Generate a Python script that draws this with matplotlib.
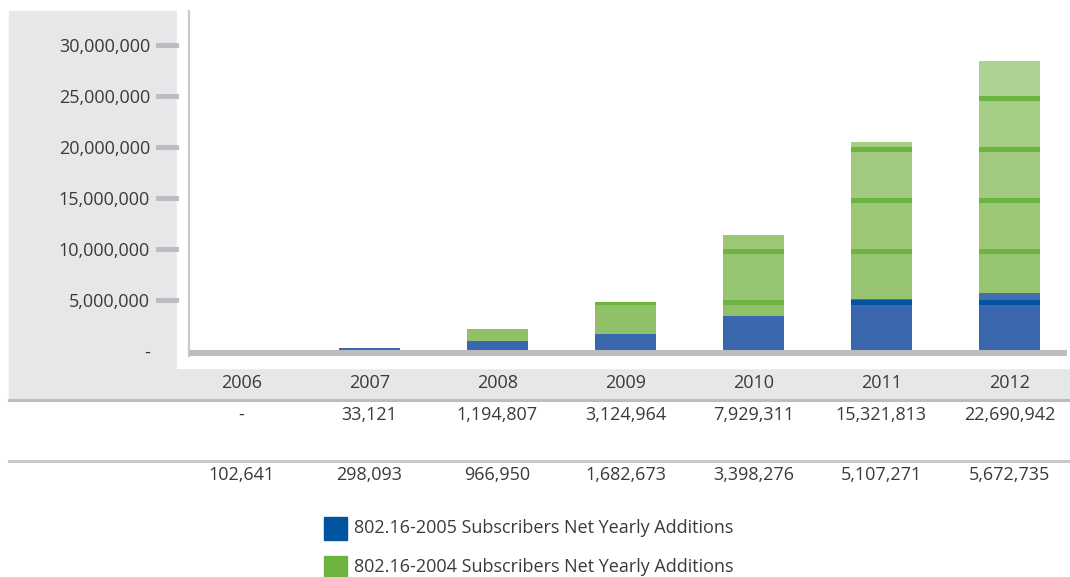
import matplotlib.pyplot as plt
from matplotlib.patches import Rectangle
from matplotlib.lines import Line2D
from matplotlib.transforms import blended_transform_factory

plt.rcParams['font.family'] = ['Open Sans', 'DejaVu Sans']

# data
years = ['2006', '2007', '2008', '2009', '2010', '2011', '2012']
subs_2004 = [0, 33121, 1194807, 3124964, 7929311, 15321813, 22690942]
subs_2005 = [102641, 298093, 966950, 1682673, 3398276, 5107271, 5672735]
row_2004 = ['-', '33,121', '1,194,807', '3,124,964', '7,929,311', '15,321,813', '22,690,942']
row_2005 = ['102,641', '298,093', '966,950', '1,682,673', '3,398,276', '5,107,271', '5,672,735']
yticks = [0, 5e6, 10e6, 15e6, 20e6, 25e6, 30e6]
ytick_labels = ['-', '5,000,000', '10,000,000', '15,000,000', '20,000,000', '25,000,000', '30,000,000']
legend_labels = ['802.16-2005 Subscribers Net Yearly Additions',
                 '802.16-2004 Subscribers Net Yearly Additions']

blue = '#0054a0'
green = '#6db33f'
blue_body = '#3a67ad'
green_body = '#90c168'
panel = '#e6e7e8'
grey_line = '#bcbdc0'
txt = '#3a3a3a'

W, H = 1070, 577
fig = plt.figure(figsize=(W / 100, H / 100), dpi=100)

def fx(px):
    return px / W

def fy(py):
    return 1 - py / H

# grey panels behind axis labels and category row
fig.patches.append(Rectangle((fx(9), fy(368)), fx(177 - 9), fy(11) - fy(368),
                             transform=fig.transFigure, color=panel, zorder=-10))
fig.patches.append(Rectangle((fx(9), fy(398)), fx(W - 9), fy(368) - fy(398),
                             transform=fig.transFigure, color=panel, zorder=-10))
fig.lines.append(Line2D([fx(9), 1], [fy(399.5), fy(399.5)], transform=fig.transFigure,
                        color=grey_line, lw=2.2, zorder=-5))
fig.lines.append(Line2D([fx(9), 1], [fy(461), fy(461)], transform=fig.transFigure,
                        color='#c8c9cb', lw=2.2, zorder=-5))

ax = fig.add_axes([fx(189), fy(356), fx(1067 - 189), fy(11) - fy(356)])
ax.patch.set_visible(False)
fig.patches.append(Rectangle((fx(177), fy(368)), fx(W - 177), fy(11) - fy(368),
                             transform=fig.transFigure, color='white', zorder=-9))

x = list(range(len(years)))
width = 0.477
bars_b = ax.bar(x, subs_2005, width, color=blue_body, zorder=1)
bars_g = ax.bar(x, subs_2004, width, bottom=subs_2005, color=green_body, zorder=1)

# bar body gets lighter higher up
for k in range(1, 7):
    ax.axhspan(k * 5e6, (k + 1) * 5e6, color='white', alpha=0.053 * k, lw=0, zorder=1.5)

# gridline stripes show in full colour inside the bars
band = 0.5e6
for bars, c in [(bars_b, blue), (bars_g, green)]:
    for p in bars:
        for v in yticks[1:]:
            s = ax.axhspan(v - band, v, color=c, lw=0, zorder=2)
            s.set_clip_path(p)

ax.axhspan(-0.49e6, 0.1e6, color=grey_line, lw=0, zorder=3)

ax.set_xlim(-0.41, 6.45)
ax.set_ylim(-0.49e6, 33.28e6)
ax.set_xticks([])
ax.set_yticks(yticks)
ax.set_yticklabels(ytick_labels, fontsize=13, color=txt)
ax.tick_params(axis='y', length=0, pad=28)
for s in ['top', 'right', 'bottom']:
    ax.spines[s].set_visible(False)
ax.spines['left'].set_color('#c8c9cb')
ax.spines['left'].set_linewidth(1.6)

# grey tick marks in the left panel
tr_marks = blended_transform_factory(fig.transFigure, ax.transData)
for v in yticks[1:]:
    ax.add_line(Line2D([fx(158), fx(176)], [v, v], transform=tr_marks,
                       color=grey_line, lw=3.6, clip_on=False))

# table under the chart
tr = blended_transform_factory(ax.transData, fig.transFigure)
for i in x:
    ax.text(i, fy(383), years[i], transform=tr, ha='center', va='center',
            fontsize=13, color=txt)
    ax.text(i, fy(415), row_2004[i], transform=tr, ha='center', va='center',
            fontsize=13, color=txt)
    ax.text(i, fy(475), row_2005[i], transform=tr, ha='center', va='center',
            fontsize=13, color=txt)

# legend
for j, (lab, c) in enumerate(zip(legend_labels, [blue, green])):
    yc = 528 + 39 * j
    fig.patches.append(Rectangle((fx(324), fy(yc + 11.5)), fx(23), fy(yc - 11.5) - fy(yc + 11.5),
                                 transform=fig.transFigure, color=c))
    fig.text(fx(354), fy(yc), lab, ha='left', va='center', fontsize=13, color=txt)

fig.savefig('out.png', dpi=100)
